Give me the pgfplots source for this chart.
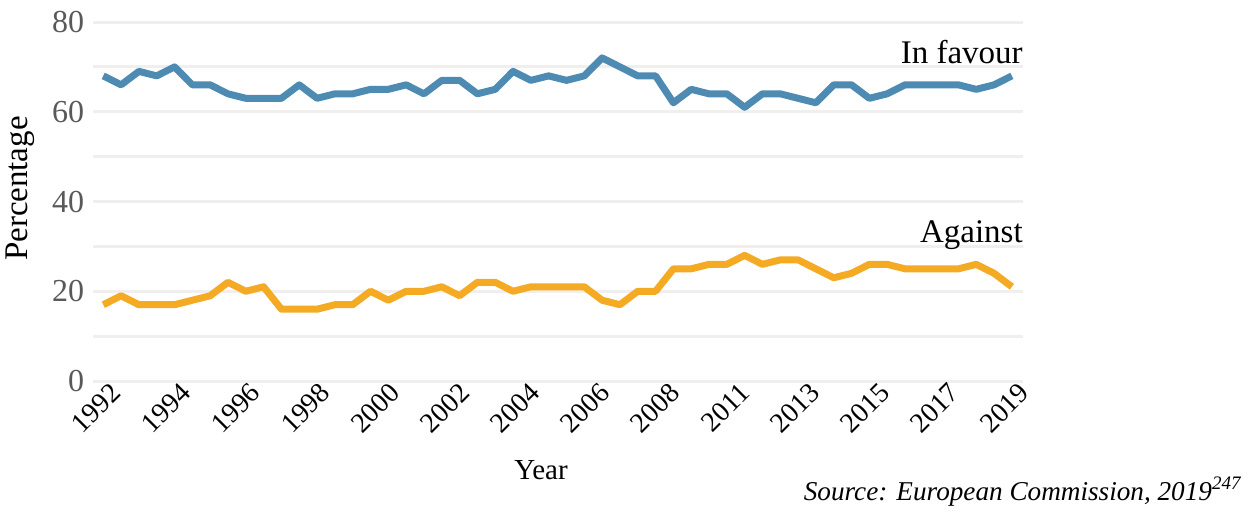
\documentclass[border=0pt]{standalone}
\usepackage{fontspec}
\setmainfont{Liberation Serif}
\usepackage{pgfplots}
\pgfplotsset{compat=1.18}
\definecolor{favour}{RGB}{78,139,179}
\definecolor{against}{RGB}{245,170,35}
\definecolor{gridc}{RGB}{240,239,237}
\definecolor{ticky}{RGB}{89,89,89}
\begin{document}
\begin{tikzpicture}
\path[use as bounding box] (-46.65pt,-65pt) rectangle (578.35pt,190.5pt);
\begin{axis}[
  at={(0,0)}, anchor=south west,
  scale only axis, width=464.9pt, height=179.5pt,
  xmin=-0.56, xmax=51.63, ymin=0, ymax=80,
  axis line style={draw=none}, tick style={draw=none},
  ytick={0,20,40,60,80}, minor ytick={10,30,50,70},
  ymajorgrids, yminorgrids,
  major grid style={gridc, line width=1.5pt},
  minor grid style={gridc, line width=1.5pt},
  xtick={0,3.923,7.846,11.769,15.692,19.615,23.538,27.462,31.385,35.308,39.231,43.154,47.077,51},
  xticklabels={1992,1994,1996,1998,2000,2002,2004,2006,2008,2011,2013,2015,2017,2019},
  /pgf/number format/assume math mode=true,
  y tick label style={font=\fontsize{16}{18}\selectfont, text=ticky, xshift=-1pt},
  x tick label style={font=\fontsize{14}{16}\selectfont, rotate=45, anchor=north east, inner sep=1pt, xshift=3pt, yshift=-1pt},
  ylabel={Percentage}, xlabel={Year},
  ylabel style={font=\fontsize{16.5}{18}\selectfont, at={(axis description cs:-0.0788,0.536)}, anchor=center},
  xlabel style={font=\fontsize{14.5}{16}\selectfont, at={(axis description cs:0.4815,-0.248)}, anchor=center},
  clip=false,
]
\addplot[favour, line width=3.5pt, line join=round] coordinates {
(0,68)(1,66)(2,69)(3,68)(4,70)(5,66)(6,66)(7,64)(8,63)(9,63)(10,63)(11,66)(12,63)(13,64)(14,64)(15,65)(16,65)(17,66)(18,64)(19,67)(20,67)(21,64)(22,65)(23,69)(24,67)(25,68)(26,67)(27,68)(28,72)(29,70)(30,68)(31,68)(32,62)(33,65)(34,64)(35,64)(36,61)(37,64)(38,64)(39,63)(40,62)(41,66)(42,66)(43,63)(44,64)(45,66)(46,66)(47,66)(48,66)(49,65)(50,66)(51,68)};
\addplot[against, line width=3.5pt, line join=round] coordinates {
(0,17)(1,19)(2,17)(3,17)(4,17)(5,18)(6,19)(7,22)(8,20)(9,21)(10,16)(11,16)(12,16)(13,17)(14,17)(15,20)(16,18)(17,20)(18,20)(19,21)(20,19)(21,22)(22,22)(23,20)(24,21)(25,21)(26,21)(27,21)(28,18)(29,17)(30,20)(31,20)(32,25)(33,25)(34,26)(35,26)(36,28)(37,26)(38,27)(39,27)(40,25)(41,23)(42,24)(43,26)(44,26)(45,25)(46,25)(47,25)(48,25)(49,26)(50,24)(51,21)};
\node[anchor=base east, inner sep=0pt, font=\fontsize{16.5}{18}\selectfont] at (rel axis cs:1,0.885) {In favour};
\node[anchor=base east, inner sep=0pt, font=\fontsize{16.5}{18}\selectfont] at (rel axis cs:1,0.385) {Against};
\end{axis}
\node[anchor=base east, inner sep=0pt, font=\fontsize{13.6}{15}\selectfont\itshape] at (574.35pt,-59.5pt) {Source: European Commission, 2019\textsuperscript{247}};
\end{tikzpicture}
\end{document}
